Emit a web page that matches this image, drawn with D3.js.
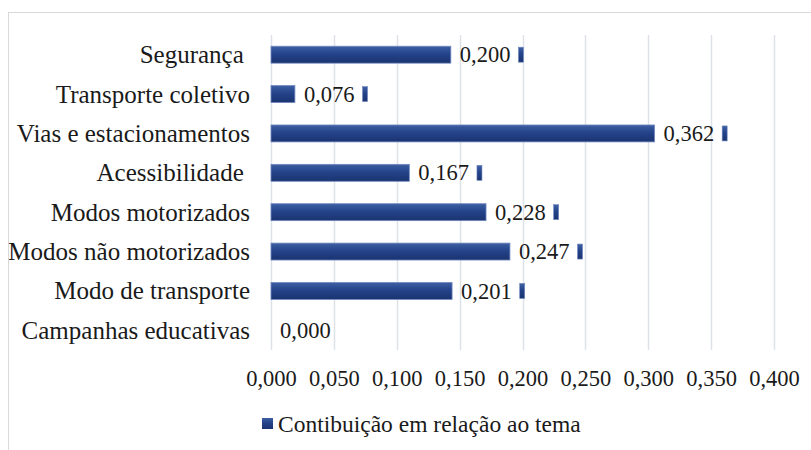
<!DOCTYPE html>
<html>
<head>
<meta charset="utf-8">
<script src="https://cdn.jsdelivr.net/npm/d3@7"></script>
<style>
  body { margin: 0; background: #fff; }
  text { font-family: "Liberation Serif", "Times New Roman", serif; fill: #1a1a1a; }
</style>
</head>
<body>
<div id="viz"></div>
<script>
const categories = ["Segurança ", "Transporte coletivo", "Vias e estacionamentos", "Acessibilidade ",
    "Modos motorizados", "Modos não motorizados", "Modo de transporte", "Campanhas educativas"];
const values = [0.200, 0.076, 0.362, 0.167, 0.228, 0.247, 0.201, 0.000];
const tickValues = [0, 0.05, 0.1, 0.15, 0.2, 0.25, 0.3, 0.35, 0.4];
const seriesName = "Contibuição em relação ao tema";
// in the picture the bars start from 0 but come up short of their labels by about this much
const barShift = 0.057;

const width = 811,
    height = 450,
    margin = { top: 35, left: 271, right: 37, bottom: 100 };

const locale = d3.formatLocale({ decimal: ",", thousands: ".", grouping: [3], currency: ["", ""] });
const fmt = locale.format(".3f");

const svg = d3.select("#viz").append("svg")
    .attr("width", width)
    .attr("height", height);

const defs = svg.append("defs");
const grad = defs.append("linearGradient")
    .attr("id", "barFill")
    .attr("x1", 0).attr("y1", 0).attr("x2", 0).attr("y2", 1);
grad.append("stop").attr("offset", "0%").attr("stop-color", "#3f60a3");
grad.append("stop").attr("offset", "45%").attr("stop-color", "#24438a");
grad.append("stop").attr("offset", "100%").attr("stop-color", "#1b3470");

// outer frame
svg.append("rect")
    .attr("x", 8.5).attr("y", 12.5)
    .attr("width", 830).attr("height", 460)
    .attr("fill", "none")
    .attr("stroke", "#d9d9d9");

const x = d3.scaleLinear()
    .domain([0, 0.4])
    .range([margin.left, width - margin.right]);

const barX = d3.scaleLinear()
    .domain([barShift, 0.4 + barShift])
    .range(x.range())
    .clamp(true);

const y = d3.scaleBand()
    .domain(categories)
    .range([margin.top, height - margin.bottom])
    .paddingInner(0.57)
    .paddingOuter(0.285);

// gridlines
svg.append("g")
    .selectAll("line")
    .data(tickValues)
    .enter().append("line")
    .attr("x1", d => Math.round(x(d)) + 0.5)
    .attr("x2", d => Math.round(x(d)) + 0.5)
    .attr("y1", margin.top)
    .attr("y2", height - margin.bottom)
    .attr("stroke", "#dfe1e8")
    .attr("stroke-width", 1.5);

// x axis labels
const xAxis = d3.axisBottom(x)
    .tickValues(tickValues)
    .tickFormat(fmt)
    .tickSize(0)
    .tickPadding(0);

svg.append("g")
    .attr("transform", "translate(0," + (height - margin.bottom) + ")")
    .call(xAxis)
    .call(g => g.select(".domain").remove())
    .selectAll("text")
    .attr("y", 36)
    .attr("dy", 0)
    .style("font-family", "Liberation Serif, Times New Roman, serif")
    .style("font-size", "22.5px")
    .style("fill", "#1a1a1a");

// category labels
const yAxis = d3.axisLeft(y).tickSize(0).tickPadding(0);
svg.append("g")
    .attr("transform", "translate(250,0)")
    .call(yAxis)
    .call(g => g.select(".domain").remove())
    .selectAll("text")
    .attr("xml:space", "preserve")
    .attr("dy", "0.34em")
    .style("white-space", "pre")
    .style("font-family", "Liberation Serif, Times New Roman, serif")
    .style("font-size", "25px")
    .style("fill", "#1a1a1a");

// bars
svg.append("g")
    .selectAll("rect")
    .data(values)
    .enter().append("rect")
    .filter(d => barX(d) > x(0))
    .attr("x", x(0))
    .attr("y", (d, i) => y(categories[i]))
    .attr("width", d => barX(d) - x(0))
    .attr("height", y.bandwidth())
    .attr("fill", "url(#barFill)")
    .attr("stroke", "#7088c0")
    .attr("stroke-width", 0.8);

// data labels with their little key marks
const labels = svg.append("g")
    .selectAll("g")
    .data(values)
    .enter().append("g")
    .attr("transform", (d, i) => "translate(" + (barX(d) + 9) + "," + (y(categories[i]) + y.bandwidth() / 2) + ")");

labels.append("text")
    .attr("dy", "0.34em")
    .style("font-size", "22.5px")
    .text(d => fmt(d));

labels.filter(d => d > 0)
    .append("rect")
    .attr("x", function () { return this.parentNode.querySelector("text").getComputedTextLength() + 8; })
    .attr("y", -7.5)
    .attr("width", 5)
    .attr("height", 15)
    .attr("fill", "url(#barFill)")
    .attr("stroke", "#7088c0")
    .attr("stroke-width", 0.6);

// legend
const legend = svg.append("g").attr("transform", "translate(262,424)");
legend.append("rect")
    .attr("x", 0).attr("y", -6)
    .attr("width", 11).attr("height", 11)
    .attr("fill", "url(#barFill)");
legend.append("text")
    .attr("x", 16)
    .attr("dy", "0.34em")
    .style("font-size", "23.5px")
    .text(seriesName);
</script>
</body>
</html>
